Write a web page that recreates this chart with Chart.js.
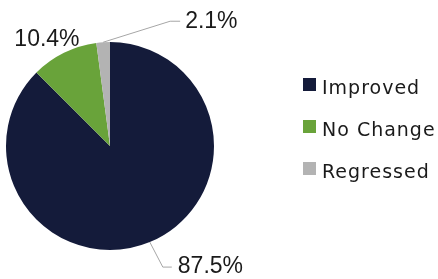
<!DOCTYPE html>
<html>
<head>
<meta charset="utf-8">
<script src="https://cdn.jsdelivr.net/npm/chart.js@4.4.1/dist/chart.umd.min.js"></script>
<style>
  html, body { margin: 0; padding: 0; background: #fff; }
  #wrap { width: 438px; height: 279px; }
</style>
</head>
<body>
<div id="wrap"><canvas id="chart" width="438" height="279"></canvas></div>
<script>
const categories = ['Improved', 'No Change', 'Regressed'];
const percents = [87.5, 10.4, 2.1];
const pctLabels = ['87.5%', '10.4%', '2.1%'];
const sliceColors = ['#141b3a', '#69a33a', '#b3b3b3'];

// where each percent label sits, relative to the slice's outer edge midpoint
const labelLayout = [
  { elbow: [13, 25], end: [22, 25], text: [28, 25], leader: true },
  { text: [-17, -13], leader: false },
  { elbow: [67, -21], end: [77, -21], text: [82, -21], leader: true }
];

const pctLabelPlugin = {
  id: 'pctLabels',
  afterDatasetsDraw(chart) {
    const ctx = chart.ctx;
    const meta = chart.getDatasetMeta(0);
    ctx.save();
    ctx.font = '23px "Liberation Sans", Arial, sans-serif';
    ctx.textBaseline = 'middle';
    meta.data.forEach((arc, i) => {
      const p = arc.getProps(['x', 'y', 'startAngle', 'endAngle', 'outerRadius'], true);
      const mid = (p.startAngle + p.endAngle) / 2;
      const ax = p.x + Math.cos(mid) * p.outerRadius;
      const ay = p.y + Math.sin(mid) * p.outerRadius;
      const l = labelLayout[i];
      if (l.leader) {
        ctx.strokeStyle = '#a6a6a6';
        ctx.lineWidth = 1;
        ctx.beginPath();
        ctx.moveTo(ax, ay);
        ctx.lineTo(ax + l.elbow[0], ay + l.elbow[1]);
        ctx.lineTo(ax + l.end[0], ay + l.end[1]);
        ctx.stroke();
        ctx.textAlign = 'left';
      } else {
        ctx.textAlign = 'center';
      }
      ctx.fillStyle = '#1a1a1a';
      ctx.fillText(pctLabels[i], ax + l.text[0], ay + l.text[1]);
    });
    ctx.restore();
  }
};

const sideLegendPlugin = {
  id: 'sideLegend',
  afterDraw(chart) {
    const ctx = chart.ctx;
    const ds = chart.data.datasets[0];
    ctx.save();
    ctx.font = '19px "DejaVu Sans", sans-serif';
    ctx.letterSpacing = '1px';
    ctx.textBaseline = 'middle';
    ctx.textAlign = 'left';
    chart.data.labels.forEach((lab, i) => {
      const y = 89 + i * 42;
      ctx.fillStyle = ds.backgroundColor[i];
      ctx.fillRect(303, y - 11, 13, 13);
      ctx.fillStyle = '#1a1a1a';
      ctx.fillText(lab, 322, y);
    });
    ctx.restore();
  }
};

new Chart(document.getElementById('chart'), {
  type: 'pie',
  data: {
    labels: categories,
    datasets: [{
      data: percents,
      backgroundColor: sliceColors,
      borderWidth: 0
    }]
  },
  options: {
    responsive: false,
    animation: false,
    layout: { padding: { top: 42, bottom: 29, left: 6, right: 224 } },
    plugins: {
      legend: { display: false },
      tooltip: { enabled: false }
    }
  },
  plugins: [pctLabelPlugin, sideLegendPlugin]
});
</script>
</body>
</html>
